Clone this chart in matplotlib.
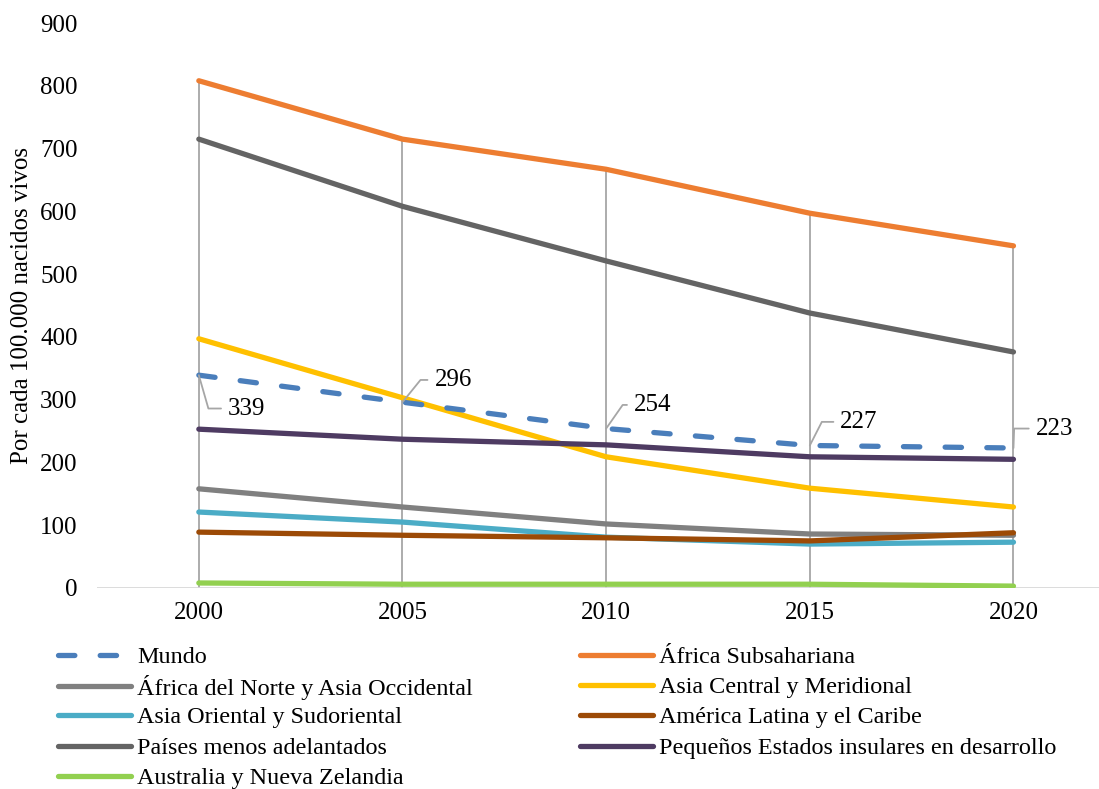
import matplotlib
matplotlib.use("Agg")
import matplotlib.pyplot as plt

plt.rcParams['font.family'] = ['Liberation Serif', 'DejaVu Serif']

years = ['2000', '2005', '2010', '2015', '2020']

mundo = [339, 296, 254, 227, 223]
africa_subs = [808, 715, 667, 597, 545]
africa_norte = [158, 129, 102, 86, 84]
asia_central = [397, 303, 209, 159, 129]
asia_oriental = [121, 105, 81, 70, 73]
america_latina = [89, 84, 80, 75, 88]
paises_menos = [715, 608, 521, 438, 376]
pequenos_estados = [253, 237, 228, 209, 205]
australia = [8, 6, 6, 6, 3]

series = [
    ("Mundo", mundo, "#4A7EBB"),
    ("África Subsahariana", africa_subs, "#ED7D31"),
    ("África del Norte y Asia Occidental", africa_norte, "#808080"),
    ("Asia Central y Meridional", asia_central, "#FFC000"),
    ("Asia Oriental y Sudoriental", asia_oriental, "#4BACC6"),
    ("América Latina y el Caribe", america_latina, "#9C4A06"),
    ("Países menos adelantados", paises_menos, "#646464"),
    ("Pequeños Estados insulares en desarrollo", pequenos_estados, "#4E3B62"),
    ("Australia y Nueva Zelandia", australia, "#92D050"),
]

FS = 18

fig = plt.figure(figsize=(10.99, 7.89), dpi=100)
ax = fig.add_axes([97 / 1099, 1 - 588 / 789, 1 - 97 / 1099, (588 - 23) / 789])

x = list(range(len(years)))

# drop lines down from the top series
ax.vlines(x, 0, africa_subs, color="#A6A6A6", lw=1.3, zorder=1)
ax.axhline(0, color="#D9D9D9", lw=1.3, zorder=1)

handles = []
for name, vals, col in series:
    if name == "Mundo":
        ln, = ax.plot(x, vals, color=col, lw=3.8, dashes=(3.1, 4.8),
                      dash_capstyle='round', solid_capstyle='round', zorder=3)
    else:
        ln, = ax.plot(x, vals, color=col, lw=3.8, solid_capstyle='round', zorder=2)
    handles.append(ln)

# data labels for Mundo with leader lines
offsets = [(21, -24), (23, 16), (20, 17), (22, 17), (16, 14)]
angles = [-74, 51, 55, 63, 88]
for i, v in enumerate(mundo):
    ax.annotate(str(v), xy=(i, v), xytext=offsets[i], textcoords='offset points',
                fontsize=FS, ha='left', va='center', zorder=4,
                arrowprops=dict(arrowstyle='-', color="#A6A6A6", lw=1.3,
                                relpos=(0, 0.5), shrinkA=3, shrinkB=0,
                                connectionstyle="angle,angleA=0,angleB=%d,rad=0" % angles[i]))

ax.set_xlim(-0.5, 4.42)
ax.set_ylim(0, 900)
ax.set_yticks(range(0, 901, 100))
ax.set_xticks(x)
ax.set_xticklabels(years)
ax.tick_params(length=0, labelsize=FS)
ax.tick_params(axis='y', pad=14)
ax.tick_params(axis='x', pad=10)
for s in ax.spines.values():
    s.set_visible(False)
ax.set_ylabel("Por cada 100.000 nacidos vivos", fontsize=FS)
ax.yaxis.set_label_coords(-0.064, 0.5)

# legend laid out row by row, two columns, evenly spaced rows
col_x = [58, 580]
row_y = [657, 687, 717, 748, 778]
for k, (h, (name, _, _)) in enumerate(zip(handles, series)):
    r, c = divmod(k, 2)
    fig.legend([h], [name], loc='center left',
               bbox_to_anchor=(col_x[c] / 1099, 1 - row_y[r] / 789),
               frameon=False, fontsize=17.4, handlelength=3.0, handletextpad=0.28,
               borderpad=0, borderaxespad=0)

fig.savefig("out.png", dpi=100)
